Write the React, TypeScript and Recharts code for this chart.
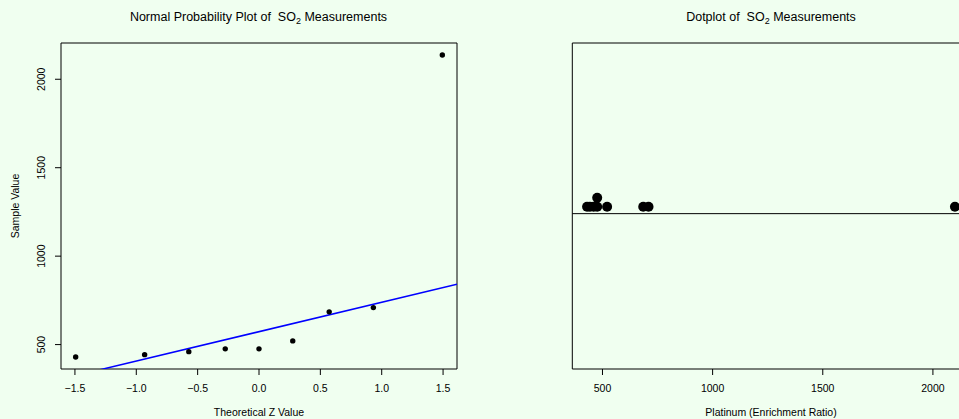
import React from "react";
import {
  ComposedChart,
  Scatter,
  Line,
  XAxis,
  YAxis,
  ReferenceArea,
  ReferenceLine,
} from "recharts";

const BG = "#F0FFF0";
const FONT = "'Liberation Sans', Arial, Helvetica, sans-serif";

// Normal probability plot: theoretical z vs sample value
const zScores = [-1.494, -0.932, -0.572, -0.275, 0, 0.275, 0.572, 0.932, 1.494];
const so2Values = [430, 443, 460, 476, 476, 521, 685, 709, 2137];
// fitted reference line, read at the plot edges
const fitZ = [-1.6135, 1.6135];
const fitValue = [305, 841];
const zTicks = [-1.5, -1, -0.5, 0, 0.5, 1, 1.5];
const valueTicks = [500, 1000, 1500, 2000];

// Dotplot
const dotValues = [430, 443, 460, 476, 476, 521, 685, 709, 2100];
const dotTicks = [500, 1000, 1500, 2000];

const qqPoints = zScores.map((z, i) => ({ z, v: so2Values[i] }));
const fitLine = fitZ.map((z, i) => ({ z, v: fitValue[i] }));
const dotPoints = dotValues.map((x, i) => ({
  x,
  level: dotValues.slice(0, i + 1).filter((d) => d === x).length,
}));

const tickStyle = { fontSize: 10.5, fontFamily: FONT, fill: "#000" };

const dot = (r: number) => (p: any) => <circle cx={p.cx} cy={p.cy} r={r} fill="#000" />;

const RotatedTick = (p: any) => (
  <text
    x={p.x}
    y={p.y}
    transform={`rotate(-90, ${p.x}, ${p.y})`}
    textAnchor="middle"
    fontSize={10.5}
    fontFamily={FONT}
    fill="#000"
  >
    {p.payload.value}
  </text>
);

const fmtZ = (v: number) => v.toFixed(1).replace("-", "\u2212");

export default function App() {
  return (
    <div
      style={{
        position: "absolute",
        left: 0,
        top: 0,
        width: 959,
        height: 419,
        overflow: "hidden",
        background: BG,
      }}
    >
      {/* left: normal probability plot */}
      <div style={{ position: "absolute", left: 0, top: 0 }}>
        <ComposedChart width={480} height={419} margin={{ top: 43, right: 23, bottom: 0, left: 0 }}>
          <XAxis
            dataKey="z"
            type="number"
            domain={[-1.6135, 1.6135]}
            allowDataOverflow
            ticks={zTicks}
            tickFormatter={fmtZ}
            axisLine={false}
            tickLine={{ stroke: "#000" }}
            tickSize={6}
            tickMargin={10}
            tick={tickStyle}
            height={50}
            interval={0}
          />
          <YAxis
            dataKey="v"
            type="number"
            domain={[362, 2205]}
            allowDataOverflow
            ticks={valueTicks}
            axisLine={false}
            tickLine={{ stroke: "#000" }}
            tickSize={6}
            tickMargin={9.5}
            tick={<RotatedTick />}
            width={61}
            interval={0}
          />
          <ReferenceArea x1={-1.6135} x2={1.6135} y1={362} y2={2205} fill="none" stroke="#000" strokeWidth={1} ifOverflow="visible" />
          <Line data={fitLine} dataKey="v" stroke="#0000FF" strokeWidth={1.5} dot={false} isAnimationActive={false} />
          <Scatter data={qqPoints} dataKey="v" shape={dot(2.7)} isAnimationActive={false} />
        </ComposedChart>
      </div>

      {/* right: dotplot */}
      <div style={{ position: "absolute", left: 480, top: 0 }}>
        <ComposedChart width={500} height={419} margin={{ top: 43, right: 10.3, bottom: 0, left: 92.3 }}>
          <XAxis
            dataKey="x"
            type="number"
            domain={[363, 2167]}
            allowDataOverflow
            ticks={dotTicks}
            axisLine={false}
            tickLine={{ stroke: "#000" }}
            tickSize={6}
            tickMargin={10}
            tick={tickStyle}
            height={50}
            interval={0}
          />
          <YAxis dataKey="level" type="number" domain={[-17.03, 19.19]} allowDataOverflow hide />
          <ReferenceArea x1={363} x2={2167} y1={-17.03} y2={19.19} fill="none" stroke="#000" strokeWidth={1} ifOverflow="visible" />
          <ReferenceLine y={0.23} stroke="#000" strokeWidth={1} />
          <Scatter data={dotPoints} dataKey="level" shape={dot(5)} isAnimationActive={false} />
        </ComposedChart>
      </div>

      {/* titles and axis labels */}
      <svg
        width={959}
        height={419}
        style={{ position: "absolute", left: 0, top: 0, pointerEvents: "none" }}
        fontFamily={FONT}
        fill="#000"
      >
        <text x={258.5} y={21} textAnchor="middle" fontSize={12.5} xmlSpace="preserve" style={{ whiteSpace: "pre" }}>
          {"Normal Probability Plot of  SO"}
          <tspan fontSize={9} dy={3}>2</tspan>
          <tspan dy={-3}>{" Measurements"}</tspan>
        </text>
        <text x={771} y={21} textAnchor="middle" fontSize={12.5} xmlSpace="preserve" style={{ whiteSpace: "pre" }}>
          {"Dotplot of  SO"}
          <tspan fontSize={9} dy={3}>2</tspan>
          <tspan dy={-3}>{" Measurements"}</tspan>
        </text>
        <text x={259} y={416} textAnchor="middle" fontSize={10.5}>Theoretical Z Value</text>
        <text x={771} y={416} textAnchor="middle" fontSize={10.5}>Platinum (Enrichment Ratio)</text>
        <text x={19} y={206} textAnchor="middle" fontSize={10.5} transform="rotate(-90, 19, 206)">Sample Value</text>
      </svg>
    </div>
  );
}
